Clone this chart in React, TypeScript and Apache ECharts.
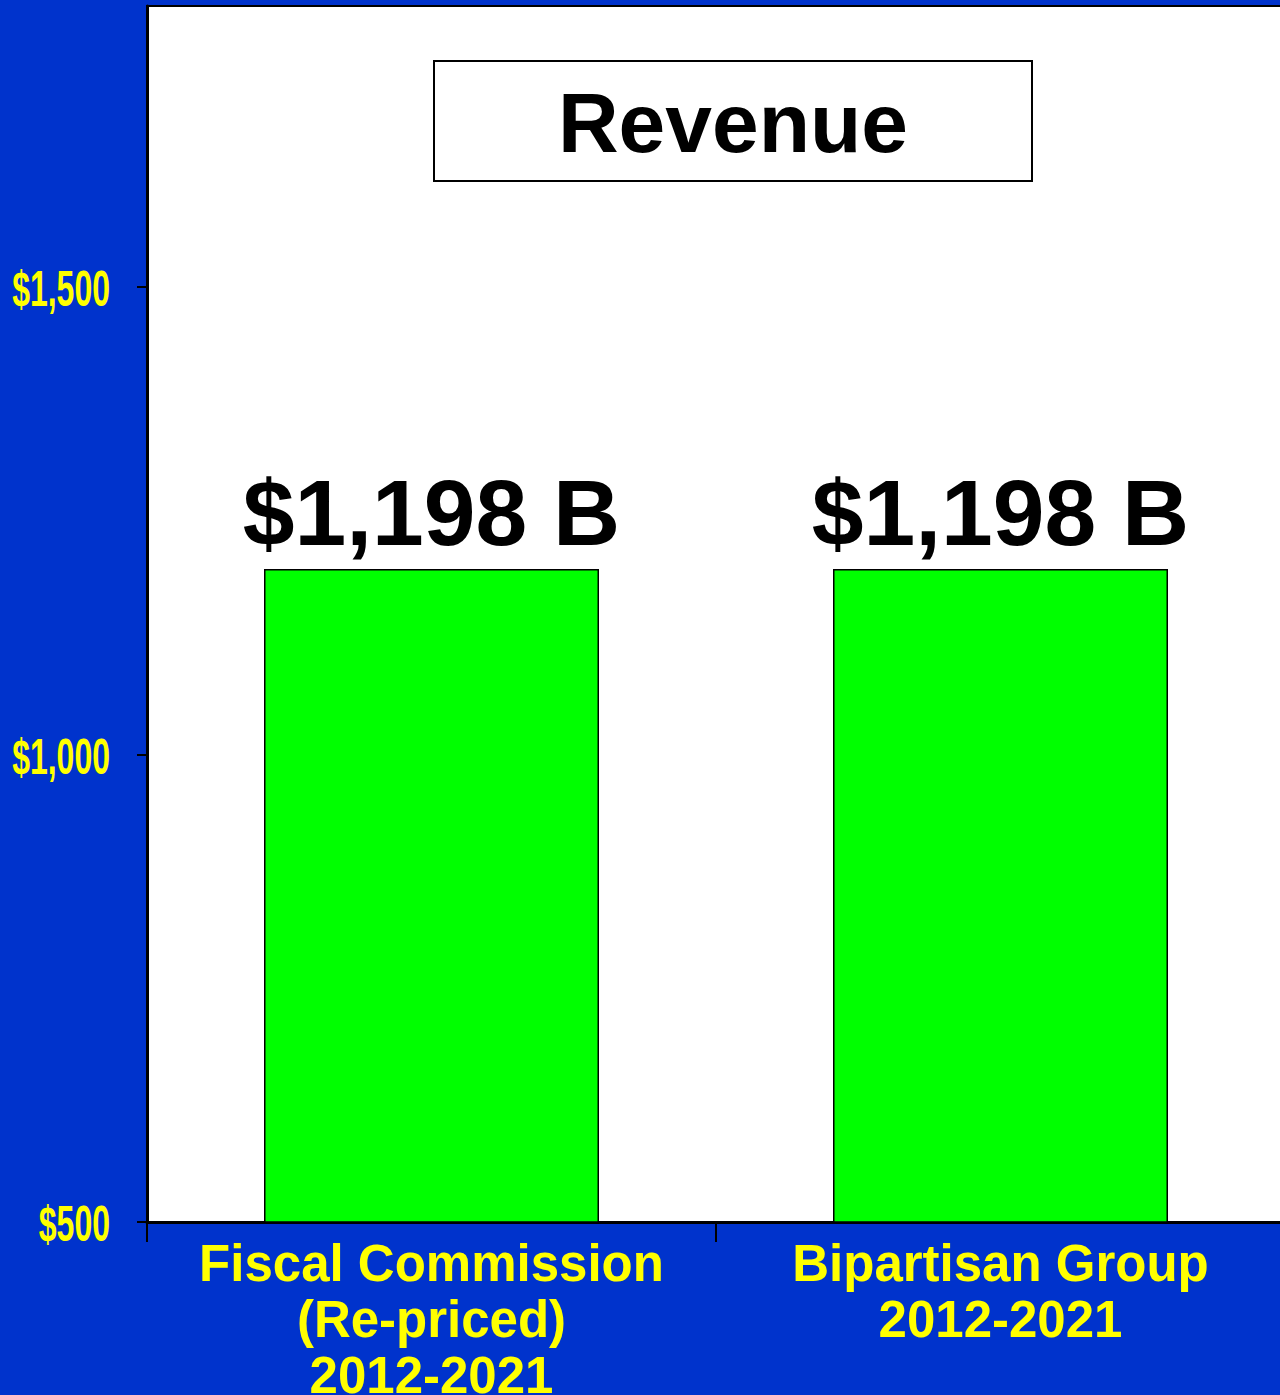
import React, { useEffect, useRef } from "react";
import * as echarts from "echarts";

const categories = ["Fiscal Commission\n(Re-priced)\n2012-2021", "Bipartisan Group\n2012-2021"];
const revenueValues = [1198, 1198];
const valueLabels = ["$1,198 B", "$1,198 B"];
const yTickValues = [500, 1000, 1500];
const yTickLabels = ["$500", "$1,000", "$1,500"];
const chartTitle = "Revenue";

const GRID_LEFT = 147;
const Y_LABEL_MARGIN = 37;

export default function App() {
  const ref = useRef<HTMLDivElement>(null);
  useEffect(() => {
    if (!ref.current) return;
    const chart = echarts.init(ref.current, undefined, { renderer: "svg" });
    const titleGraphics = [
      {
        id: "titleBox",
        type: "rect",
        shape: { x: 434, y: 61, width: 598, height: 120 },
        style: { fill: "#FFFFFF", stroke: "#000000", lineWidth: 2 },
        z: 100,
      },
      {
        id: "titleText",
        type: "text",
        x: 733,
        y: 123,
        z: 101,
        style: {
          text: chartTitle,
          fill: "#000000",
          font: "bold 84px 'Liberation Sans', Arial, sans-serif",
          textAlign: "center",
          textVerticalAlign: "middle",
        },
      },
    ];
    chart.setOption({
      animation: false,
      backgroundColor: "#0033CC",
      grid: {
        left: GRID_LEFT,
        top: 6,
        right: -5,
        bottom: 173,
        outerBoundsMode: "none",
        containLabel: false,
        show: true,
        backgroundColor: "#FFFFFF",
        borderColor: "#000000",
        borderWidth: 2,
      },
      xAxis: {
        type: "category",
        data: categories,
        axisLine: { show: true, lineStyle: { color: "#000000", width: 3 } },
        axisTick: { show: true, length: 20, lineStyle: { color: "#000000", width: 2 } },
        axisLabel: {
          color: "#FFFF00",
          fontFamily: "Liberation Sans, Arial, sans-serif",
          fontWeight: "bold",
          fontSize: 51,
          lineHeight: 56,
          margin: 13,
          interval: 0,
        },
      },
      yAxis: {
        type: "value",
        min: 500,
        max: 1800,
        interval: 500,
        splitLine: { show: false },
        axisLine: { show: true, lineStyle: { color: "#000000", width: 3 } },
        axisTick: {
          show: true,
          length: 10,
          customValues: yTickValues,
          lineStyle: { color: "#000000", width: 2 },
        },
        axisLabel: { show: false },
      },
      series: [
        {
          type: "bar",
          data: revenueValues,
          barWidth: 335,
          itemStyle: { color: "#00FF00", borderColor: "#000000", borderWidth: 1.5 },
          label: {
            show: true,
            position: "top",
            distance: 10,
            color: "#000000",
            fontFamily: "Liberation Sans, Arial, sans-serif",
            fontWeight: "bold",
            fontSize: 93,
            formatter: (p: any) => valueLabels[p.dataIndex],
          },
        },
      ],
      graphic: titleGraphics,
    });
    // Condensed y-axis tick labels, positioned through the axis scale
    const yLabelGraphics = yTickValues.map((v, i) => {
      const py = chart.convertToPixel({ yAxisIndex: 0 }, v) as number;
      return {
        id: "ylab" + i,
        type: "text",
        x: GRID_LEFT - Y_LABEL_MARGIN,
        y: py + 2,
        scaleX: 0.64,
        z: 50,
        style: {
          text: yTickLabels[i],
          fill: "#FFFF00",
          font: "bold 50px 'Liberation Sans', Arial, sans-serif",
          textAlign: "right",
          textVerticalAlign: "middle",
        },
      };
    });
    chart.setOption({ graphic: [...titleGraphics, ...yLabelGraphics] });
    return () => chart.dispose();
  }, []);
  return (
    <div
      ref={ref}
      style={{ position: "absolute", left: 0, top: 0, width: 1280, height: 1395 }}
    />
  );
}
